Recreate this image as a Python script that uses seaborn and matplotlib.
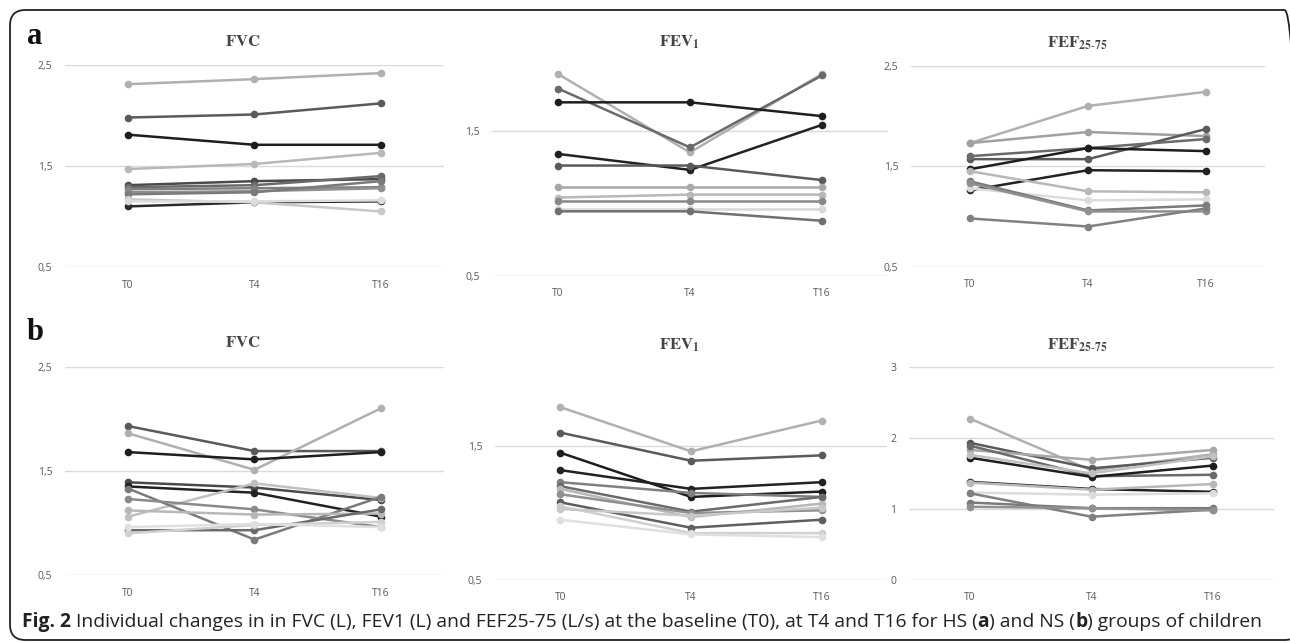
import numpy as np
import pandas as pd
import seaborn as sns
import matplotlib.pyplot as plt
from matplotlib.ticker import FuncFormatter
from matplotlib.patches import FancyBboxPatch

times = ["T0", "T4", "T16"]

# HS group (a)
hs_fvc = [[2.31, 2.36, 2.42], [1.98, 2.01, 2.12], [1.81, 1.71, 1.71], [1.47, 1.52, 1.63],
          [1.31, 1.35, 1.37], [1.29, 1.31, 1.40], [1.27, 1.28, 1.29], [1.24, 1.25, 1.28],
          [1.22, 1.24, 1.35], [1.10, 1.14, 1.15], [1.17, 1.14, 1.05], [1.15, 1.15, 1.16]]
hs_fev1 = [[1.89, 1.35, 1.89], [1.79, 1.385, 1.88], [1.695, 1.695, 1.60], [1.34, 1.23, 1.54],
           [1.26, 1.26, 1.16], [1.115, 1.115, 1.115], [1.04, 1.06, 1.06], [1.015, 1.015, 1.015],
           [0.96, 0.96, 0.96], [0.945, 0.945, 0.88]]
hs_fef = [[1.73, 2.10, 2.24], [1.73, 1.84, 1.80], [1.57, 1.57, 1.87], [1.60, 1.68, 1.77],
          [1.47, 1.68, 1.65], [1.26, 1.46, 1.45], [1.45, 1.25, 1.24], [1.28, 1.16, 1.17],
          [1.35, 1.06, 1.11], [1.33, 1.05, 1.05], [0.98, 0.90, 1.08]]

# NS group (b)
ns_fvc = [[1.93, 1.69, 1.69], [1.86, 1.51, 2.10], [1.68, 1.61, 1.68], [1.39, 1.34, 1.22],
          [1.35, 1.29, 1.06], [1.06, 1.38, 1.24], [1.33, 0.84, 1.25], [1.23, 1.13, 0.96],
          [1.12, 1.08, 1.09], [0.93, 0.93, 1.13], [0.90, 0.98, 1.01], [0.96, 0.99, 0.96]]
ns_fev1 = [[1.79, 1.46, 1.69], [1.60, 1.39, 1.43], [1.45, 1.12, 1.16], [1.32, 1.18, 1.23],
           [1.23, 1.15, 1.12], [1.20, 1.01, 1.12], [1.18, 0.97, 1.07], [1.14, 1.00, 1.02],
           [1.08, 0.89, 0.95], [1.05, 0.85, 0.85], [0.95, 0.84, 0.82], [1.03, 0.98, 1.04]]
ns_fef = [[2.27, 1.54, 1.77], [1.93, 1.57, 1.72], [1.83, 1.69, 1.83], [1.89, 1.46, 1.48],
          [1.72, 1.45, 1.61], [1.76, 1.50, 1.74], [1.38, 1.28, 1.24], [1.37, 1.27, 1.35],
          [1.23, 1.20, 1.22], [1.22, 0.89, 0.99], [1.09, 1.01, 1.01], [1.03, 1.01, 0.98]]

# y ticks per panel
yt_fvc = [0.5, 1.5, 2.5]
yt_fev1 = [0.5, 1.5]
yt_fef_hs = [0.5, 1.5, 2.5]
yt_fef_ns = [0, 1, 2, 3]

# grey shade per line
grey_hs_fvc = ["#b0b0b0", "#5a5a5a", "#1e1e1e", "#b8b8b8", "#4a4a4a", "#6a6a6a",
               "#808080", "#909090", "#7a7a7a", "#2a2a2a", "#c8c8c8", "#dcdcdc"]
grey_hs_fev1 = ["#b0b0b0", "#6a6a6a", "#1e1e1e", "#222222", "#5a5a5a",
                "#a8a8a8", "#b8b8b8", "#888888", "#d8d8d8", "#707070"]
grey_hs_fef = ["#b0b0b0", "#a0a0a0", "#5a5a5a", "#6a6a6a", "#1e1e1e", "#222222",
               "#b8b8b8", "#dcdcdc", "#7a7a7a", "#909090", "#808080"]
grey_ns_fvc = ["#5a5a5a", "#b0b0b0", "#1e1e1e", "#4a4a4a", "#222222", "#c0c0c0",
               "#7a7a7a", "#8a8a8a", "#b8b8b8", "#6a6a6a", "#d0d0d0", "#e0e0e0"]
grey_ns_fev1 = ["#b0b0b0", "#5a5a5a", "#1e1e1e", "#222222", "#808080", "#6a6a6a",
                "#b8b8b8", "#909090", "#5e5e5e", "#d0d0d0", "#e0e0e0", "#c8c8c8"]
grey_ns_fef = ["#b0b0b0", "#5a5a5a", "#a8a8a8", "#6a6a6a", "#1e1e1e", "#c0c0c0",
               "#222222", "#b8b8b8", "#dcdcdc", "#808080", "#7a7a7a", "#909090"]

sns.set_theme(style="white")
plt.rcParams["font.family"] = ["Open Sans", "DejaVu Sans"]
plt.rcParams["mathtext.fontset"] = "stix"

W, H = 1290, 643
fig = plt.figure(figsize=(W / 100, H / 100), dpi=100)


def px_axes(x0, x1, ytop, ybot):
    return fig.add_axes([x0 / W, (H - ybot) / H, (x1 - x0) / W, (ybot - ytop) / H])


def draw_panel(ax, series, greys, ylim, yticks):
    rows = []
    for i, s in enumerate(series):
        for t, v in zip(times, s):
            rows.append({"time": t, "value": v, "id": i})
    df = pd.DataFrame(rows)
    sns.lineplot(data=df, x="time", y="value", hue="id", palette=greys, marker="o",
                 markersize=5.5, markeredgewidth=0, linewidth=1.8, sort=False,
                 legend=False, ax=ax)
    ax.set_xlim(-0.5, 2.5)
    ax.set_ylim(*ylim)
    ax.set_yticks(yticks)
    ax.yaxis.set_major_formatter(FuncFormatter(lambda v, p: ("%g" % v).replace(".", ",")))
    ax.grid(axis="y", color="#dadada", linewidth=1)
    ax.set_axisbelow(True)
    for sp in ax.spines.values():
        sp.set_visible(False)
    ax.tick_params(length=0, labelsize=7.5, colors="#595959", pad=9)
    ax.set_xlabel("")
    ax.set_ylabel("")
    ax.patch.set_alpha(0)


panels = [
    (px_axes(65, 444, 65, 267), hs_fvc, grey_hs_fvc, (0.5, 2.5), yt_fvc),
    (px_axes(492, 888, 58, 276), hs_fev1, grey_hs_fev1, (0.5, 2.0), yt_fev1),
    (px_axes(911, 1265, 65.7, 266.7), hs_fef, grey_hs_fef, (0.5, 2.5), yt_fef_hs),
    (px_axes(65, 444, 366.7, 575), ns_fvc, grey_ns_fvc, (0.5, 2.5), yt_fvc),
    (px_axes(495, 887, 379, 580), ns_fev1, grey_ns_fev1, (0.5, 2.0), yt_fev1),
    (px_axes(909, 1274, 366.7, 580), ns_fef, grey_ns_fef, (0, 3), yt_fef_ns),
]
for ax, s, g, yl, yt in panels:
    draw_panel(ax, s, g, yl, yt)

titles = [(243, 42, r"$\mathbf{FVC}$"), (679, 42, r"$\mathbf{FEV_1}$"),
          (1077, 43, r"$\mathbf{FEF_{25\text{-}75}}$"),
          (243, 343, r"$\mathbf{FVC}$"), (679, 345, r"$\mathbf{FEV_1}$"),
          (1077, 345, r"$\mathbf{FEF_{25\text{-}75}}$")]
for x, y, t in titles:
    fig.text(x / W, 1 - y / H, t, ha="center", va="center", fontsize=12, color="#444444")

fig.text(27 / W, 1 - 36 / H, "a", fontsize=22, fontweight="bold", family="Liberation Serif",
         ha="left", va="center", color="#111111")
fig.text(27 / W, 1 - 333 / H, "b", fontsize=22, fontweight="bold", family="Liberation Serif",
         ha="left", va="center", color="#111111")

# rounded frame
frame = FancyBboxPatch((10 / W, 3 / H), 1290 / W, 630 / H,
                       boxstyle="round,pad=0,rounding_size=0.012",
                       transform=fig.transFigure, fill=False, edgecolor="#222222",
                       linewidth=1.3, mutation_aspect=W / H)
fig.add_artist(frame)

# caption
pieces = [("Fig. 2", "bold"),
          (" Individual changes in in FVC (L), FEV1 (L) and FEF25-75 (L/s) at the baseline (T0), at T4 and T16 for HS (", "normal"),
          ("a", "bold"), (") and NS (", "normal"), ("b", "bold"), (") groups of children", "normal")]
renderer = fig.canvas.get_renderer()
x = 22
for txt, wt in pieces:
    t = fig.text(x / W, 1 - 622 / H, txt, fontsize=13.9, fontweight=wt, color="#222222",
                 ha="left", va="center")
    bb = t.get_window_extent(renderer)
    x += bb.width

fig.savefig("out.png", dpi=100)
